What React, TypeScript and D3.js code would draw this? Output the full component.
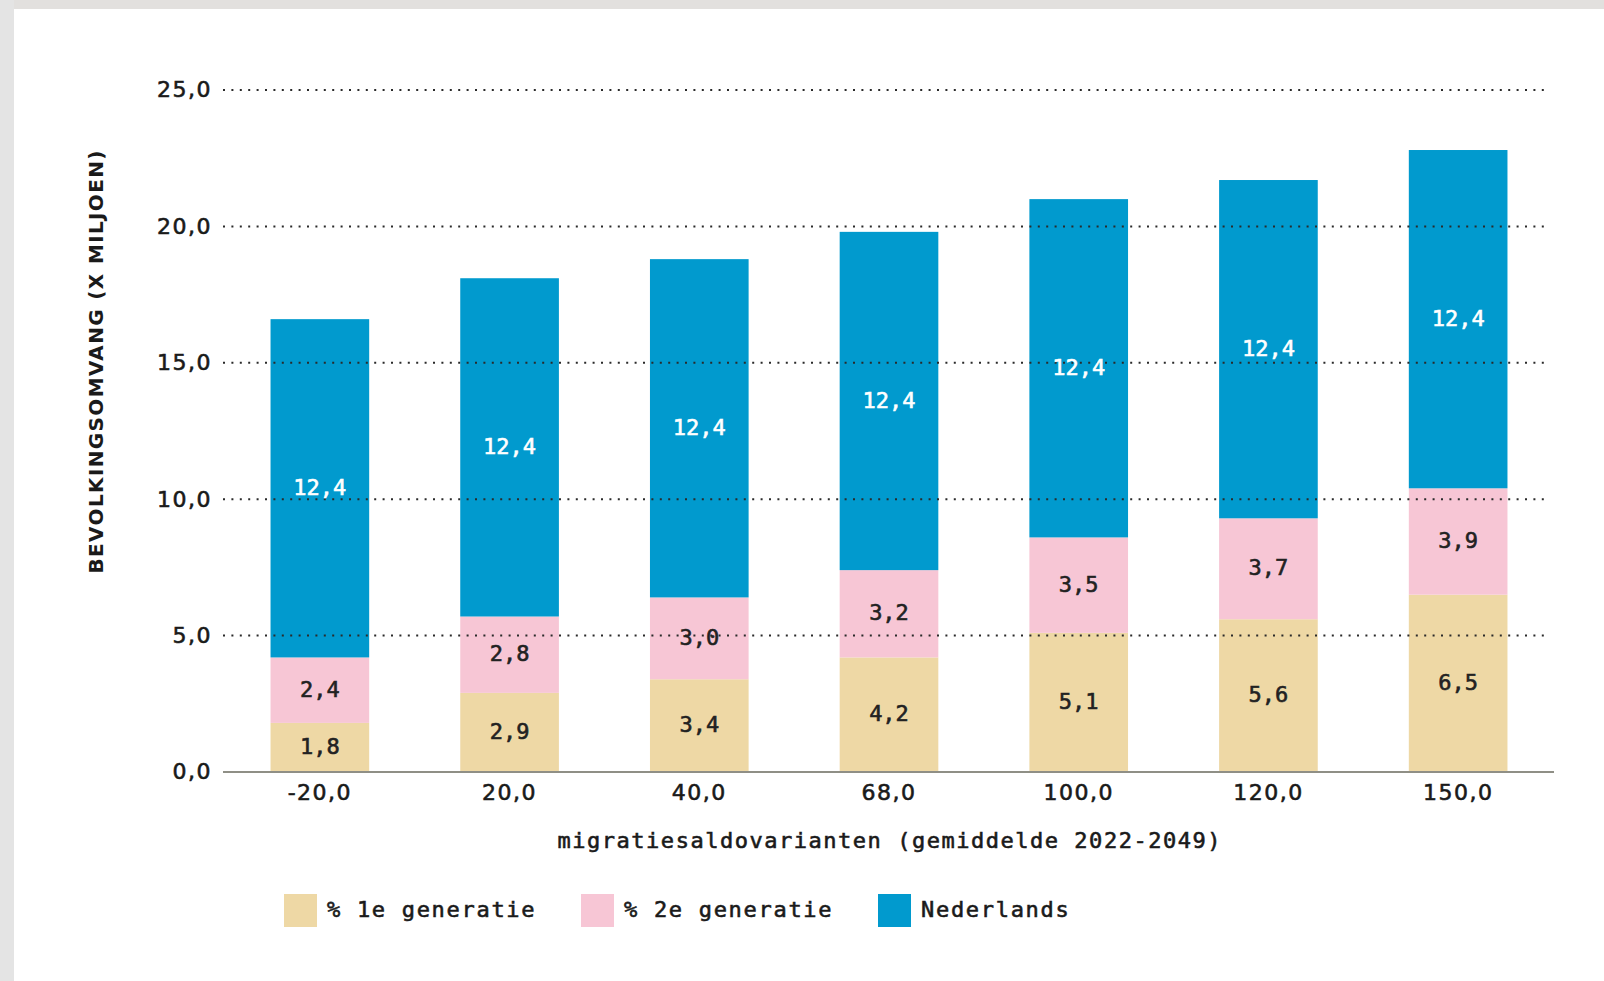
import React from "react";
import * as d3 from "d3";

const categories = ["-20,0", "20,0", "40,0", "68,0", "100,0", "120,0", "150,0"];
const gen1 = [1.8, 2.9, 3.4, 4.2, 5.1, 5.6, 6.5];
const gen2 = [2.4, 2.8, 3.0, 3.2, 3.5, 3.7, 3.9];
const nederlands = [12.4, 12.4, 12.4, 12.4, 12.4, 12.4, 12.4];
const yTicks = [0, 5, 10, 15, 20, 25];
const seriesKeys = ["gen1", "gen2", "nl"];
const seriesNames = ["% 1e generatie", "% 2e generatie", "Nederlands"];
const seriesColors = ["#EED8A5", "#F7C6D5", "#019ACE"];
const labelColors = ["#222", "#222", "#fff"];
const yTitle = "BEVOLKINGSOMVANG (X MILJOEN)";
const xTitle = "migratiesaldovarianten (gemiddelde 2022-2049)";

const nl = d3.formatLocale({ decimal: ",", thousands: ".", grouping: [3], currency: ["€", ""] });
const fmt = nl.format(".1f");

const W = 1604;
const H = 981;
const sans = "'DejaVu Sans', sans-serif";
const mono = "'DejaVu Sans Mono', monospace";
const ink = "#1a1a1a";

export default function App() {
  const rows = categories.map((c, i) => ({ cat: c, gen1: gen1[i], gen2: gen2[i], nl: nederlands[i] }));
  const stack = d3.stack<any>().keys(seriesKeys)(rows);
  const x = d3.scaleBand<string>().domain(categories).range([225, 1553]).paddingInner(0.48).paddingOuter(0.24);
  const y = d3.scaleLinear().domain([0, 25]).range([772, 90]);

  return (
    <div style={{ position: "fixed", left: 0, top: 0 }}>
      <svg width={W} height={H} style={{ display: "block", background: "#fff" }}>
        <rect x={0} y={0} width={W} height={9} fill="#e2e0de" />
        <rect x={0} y={0} width={14} height={H} fill="#e4e4e4" />
        {stack.map((s, si) => (
          <g key={seriesKeys[si]}>
            {s.map((d, i) => (
              <rect
                key={i}
                x={x(categories[i])}
                y={y(d[1])}
                width={x.bandwidth()}
                height={y(d[0]) - y(d[1])}
                fill={seriesColors[si]}
              />
            ))}
          </g>
        ))}
        {yTicks.filter((t) => t > 0).map((t) => (
          <line key={t} x1={223} x2={1547} y1={y(t)} y2={y(t)} stroke="#2a2a2a" strokeWidth={2} strokeDasharray="2 6.4" />
        ))}
        <line x1={223} x2={1554} y1={y(0)} y2={y(0)} stroke="#8f8f86" strokeWidth={2} />
        {stack.map((s, si) => (
          <g key={"l" + si}>
            {s.map((d, i) => (
              <text
                key={i}
                x={(x(categories[i]) as number) + x.bandwidth() / 2}
                y={(y(d[0]) + y(d[1])) / 2}
                dy="0.3em"
                textAnchor="middle"
                fontFamily={mono}
                fontSize={22}
                fill={labelColors[si]}
                stroke={labelColors[si]}
                strokeWidth={0.6}
              >
                {fmt(d[1] - d[0])}
              </text>
            ))}
          </g>
        ))}
        {yTicks.map((t) => (
          <text key={t} x={212} y={y(t)} dy="0.34em" textAnchor="end" fontFamily={sans} fontSize={22} letterSpacing={1.5} fill={ink} stroke={ink} strokeWidth={0.6}>
            {fmt(t)}
          </text>
        ))}
        {categories.map((c) => (
          <text key={c} x={(x(c) as number) + x.bandwidth() / 2} y={793} dy="0.34em" textAnchor="middle" fontFamily={sans} fontSize={22} letterSpacing={1.5} fill={ink} stroke={ink} strokeWidth={0.6}>
            {c}
          </text>
        ))}
        <text x={889} y={841} dy="0.34em" textAnchor="middle" fontFamily={mono} fontSize={22} textLength={663} lengthAdjust="spacing" fill={ink} stroke={ink} strokeWidth={0.6}>
          {xTitle}
        </text>
        <text
          transform={`translate(96, ${362}) rotate(-90)`}
          textAnchor="middle"
          dy="0.36em"
          fontFamily={sans}
          fontSize={20}
          fontWeight="bold"
          textLength={423}
          lengthAdjust="spacing"
          fill={ink}
        >
          {yTitle}
        </text>
        {seriesNames.map((n, i) => {
          const lx = [284, 581, 878][i];
          return (
            <g key={n}>
              <rect x={lx} y={894} width={33} height={33} fill={seriesColors[i]} />
              <text x={lx + 43} y={910} dy="0.34em" fontFamily={mono} fontSize={22} letterSpacing={1.7} fill={ink} stroke={ink} strokeWidth={0.6}>
                {n}
              </text>
            </g>
          );
        })}
      </svg>
    </div>
  );
}
